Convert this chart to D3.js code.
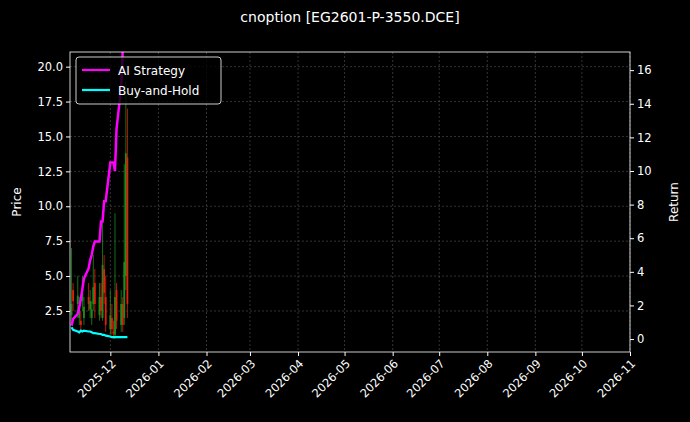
<!DOCTYPE html>
<html><head><meta charset="utf-8">
<script src="https://cdn.jsdelivr.net/npm/d3@7"></script>
<style>body{margin:0;background:#000}text{font-family:"DejaVu Sans",sans-serif}</style>
</head><body>
<svg id="chart" width="690" height="422"></svg>
<script>
// データ
var dates = ["2025-11-06","2025-11-07","2025-11-10","2025-11-11","2025-11-12","2025-11-13","2025-11-14","2025-11-17","2025-11-18","2025-11-19","2025-11-20","2025-11-21","2025-11-24","2025-11-25","2025-11-26","2025-11-27","2025-11-28","2025-12-01","2025-12-02","2025-12-03","2025-12-04","2025-12-05","2025-12-08","2025-12-09","2025-12-10","2025-12-11","2025-12-12"];
var openP  = [2.2, 4.0, 3.0, 2.0, 1.8, 3.2, 2.0, 3.5, 2.6, 2.0, 3.0, 4.5, 2.2, 3.5, 2.0, 5.5, 3.5, 1.2, 2.0, 1.0, 0.8, 4.0, 1.5, 3.0, 2.0, 5.0, 13.5];
var closeP = [3.0, 3.2, 3.6, 2.6, 1.5, 3.8, 2.8, 3.0, 3.2, 2.6, 4.2, 3.0, 3.5, 2.5, 5.8, 3.8, 1.5, 2.2, 1.2, 0.9, 3.5, 1.8, 3.0, 1.5, 6.0, 13.8, 3.0];
var highP  = [7.0, 4.5, 5.0, 3.5, 2.5, 5.0, 3.5, 4.5, 4.0, 3.2, 6.5, 5.5, 4.5, 4.5, 8.8, 6.5, 5.0, 4.0, 3.0, 1.8, 9.5, 4.5, 4.0, 3.5, 13.0, 19.0, 17.0];
var lowP   = [1.5, 2.5, 2.0, 1.5, 1.0, 2.5, 1.5, 2.5, 2.0, 1.5, 2.5, 2.0, 1.8, 2.0, 1.8, 3.0, 1.0, 0.8, 0.8, 0.5, 0.5, 1.2, 1.0, 1.0, 1.5, 4.0, 2.0];
var aiRet  = [0.8, 1.2, 1.5, 1.9, 2.4, 3.0, 3.6, 4.2, 4.7, 5.0, 5.5, 5.8, 5.8, 7.0, 7.0, 8.2, 8.2, 10.5, 10.5, 10.5, 10.0, 12.5, 15.0, 17.2, 17.5, 17.5, 17.5];
var bhRet  = [0.7, 0.55, 0.45, 0.4, 0.5, 0.45, 0.5, 0.45, 0.45, 0.4, 0.35, 0.35, 0.3, 0.3, 0.25, 0.25, 0.2, 0.15, 0.12, 0.12, 0.12, 0.12, 0.12, 0.12, 0.12, 0.12, 0.12];
var priceTicks = [2.5, 5.0, 7.5, 10.0, 12.5, 15.0, 17.5, 20.0];
var retTicks = [0, 2, 4, 6, 8, 10, 12, 14, 16];

var parse = d3.timeParse("%Y-%m-%d");
var rows = dates.map(function(d, i){
	return {t: parse(d), o: openP[i], c: closeP[i], h: highP[i], l: lowP[i], ai: aiRet[i], bh: bhRet[i]};
});

var L = 70, R = 630, T = 52, B = 352;
var svg = d3.select("#chart");
svg.append("rect").attr("width", 690).attr("height", 422).attr("fill", "#000");

var x = d3.scaleTime().domain([parse("2025-11-05"), parse("2026-11-01")]).range([L, R]);
var y = d3.scaleLinear().domain([-0.44, 21.05]).range([B, T]);
var y2 = d3.scaleLinear().domain([-0.77, 17.08]).range([B, T]);

// グリッド
var xTicks = d3.timeMonth.range(parse("2025-12-01"), parse("2026-11-02"));
svg.append("g").selectAll("line").data(xTicks).enter().append("line")
	.attr("x1", function(d){ return x(d); }).attr("x2", function(d){ return x(d); })
	.attr("y1", T).attr("y2", B)
	.attr("stroke", "#555").attr("stroke-dasharray", "2,2").attr("stroke-width", 0.6);
svg.append("g").selectAll("line").data(priceTicks).enter().append("line")
	.attr("x1", L).attr("x2", R)
	.attr("y1", function(d){ return y(d); }).attr("y2", function(d){ return y(d); })
	.attr("stroke", "#555").attr("stroke-dasharray", "2,2").attr("stroke-width", 0.6);

// ローソク足
var g = svg.append("g");
rows.forEach(function(d){
	var col = d.c >= d.o ? "#1e8c1e" : "#e0200a";
	g.append("line").attr("x1", x(d.t)).attr("x2", x(d.t))
		.attr("y1", y(d.h)).attr("y2", y(d.l)).attr("stroke", col).attr("stroke-width", 0.8);
	g.append("rect").attr("x", x(d.t) - 0.9).attr("width", 1.8)
		.attr("y", y(Math.max(d.o, d.c))).attr("height", Math.max(1, Math.abs(y(d.o) - y(d.c))))
		.attr("fill", col);
});

// リターン線
svg.append("path").datum(rows)
	.attr("d", d3.line().x(function(d){ return x(d.t); }).y(function(d){ return y2(d.bh); }))
	.attr("fill", "none").attr("stroke", "#00ffff").attr("stroke-width", 2.2);
svg.append("defs").append("clipPath").attr("id", "clip").append("rect")
	.attr("x", L).attr("y", T).attr("width", R - L).attr("height", B - T);
svg.append("path").datum(rows).attr("clip-path", "url(#clip)")
	.attr("d", d3.line().x(function(d){ return x(d.t); }).y(function(d){ return y2(d.ai); }))
	.attr("fill", "none").attr("stroke", "#ff00ff").attr("stroke-width", 2.5);

// 枠
svg.append("rect").attr("x", L).attr("y", T).attr("width", R - L).attr("height", B - T)
	.attr("fill", "none").attr("stroke", "#fff").attr("stroke-width", 0.8);

// 軸
var ax = svg.append("g").attr("transform", "translate(0," + B + ")")
	.call(d3.axisBottom(x).tickValues(xTicks).tickFormat(d3.timeFormat("%Y-%m")).tickSize(4));
ax.selectAll("text").attr("fill", "#fff").style("font-size", "11.5px")
	.attr("text-anchor", "end").attr("transform", "rotate(-45)").attr("dx", "-0.4em").attr("dy", "0.5em");
var ay = svg.append("g").attr("transform", "translate(" + L + ",0)")
	.call(d3.axisLeft(y).tickValues(priceTicks).tickFormat(d3.format(".1f")).tickSize(4));
ay.selectAll("text").attr("fill", "#fff").style("font-size", "11.5px");
var ay2 = svg.append("g").attr("transform", "translate(" + R + ",0)")
	.call(d3.axisRight(y2).tickValues(retTicks).tickSize(4));
ay2.selectAll("text").attr("fill", "#fff").style("font-size", "11.5px");
[ax, ay, ay2].forEach(function(a){
	a.select(".domain").remove();
	a.selectAll("line").attr("stroke", "#fff");
});

// 文字
svg.append("text").attr("x", 350).attr("y", 22).attr("text-anchor", "middle")
	.attr("fill", "#fff").style("font-size", "14px").text("cnoption [EG2601-P-3550.DCE]");
svg.append("text").attr("transform", "translate(21,202) rotate(-90)").attr("text-anchor", "middle")
	.attr("fill", "#fff").style("font-size", "12px").text("Price");
svg.append("text").attr("transform", "translate(678,202) rotate(-90)").attr("text-anchor", "middle")
	.attr("fill", "#fff").style("font-size", "12px").text("Return");

// 凡例
var lg = svg.append("g").attr("transform", "translate(76,57)");
lg.append("rect").attr("width", 145).attr("height", 47).attr("rx", 3)
	.attr("fill", "#000").attr("fill-opacity", 0.8).attr("stroke", "#ccc");
[["AI Strategy", "#ff00ff"], ["Buy-and-Hold", "#00ffff"]].forEach(function(d, i){
	lg.append("line").attr("x1", 6).attr("x2", 34).attr("y1", 13 + i * 20).attr("y2", 13 + i * 20)
		.attr("stroke", d[1]).attr("stroke-width", 2.2);
	lg.append("text").attr("x", 42).attr("y", 17.5 + i * 20).attr("fill", "#fff")
		.style("font-size", "12px").text(d[0]);
});
</script>
</body></html>
